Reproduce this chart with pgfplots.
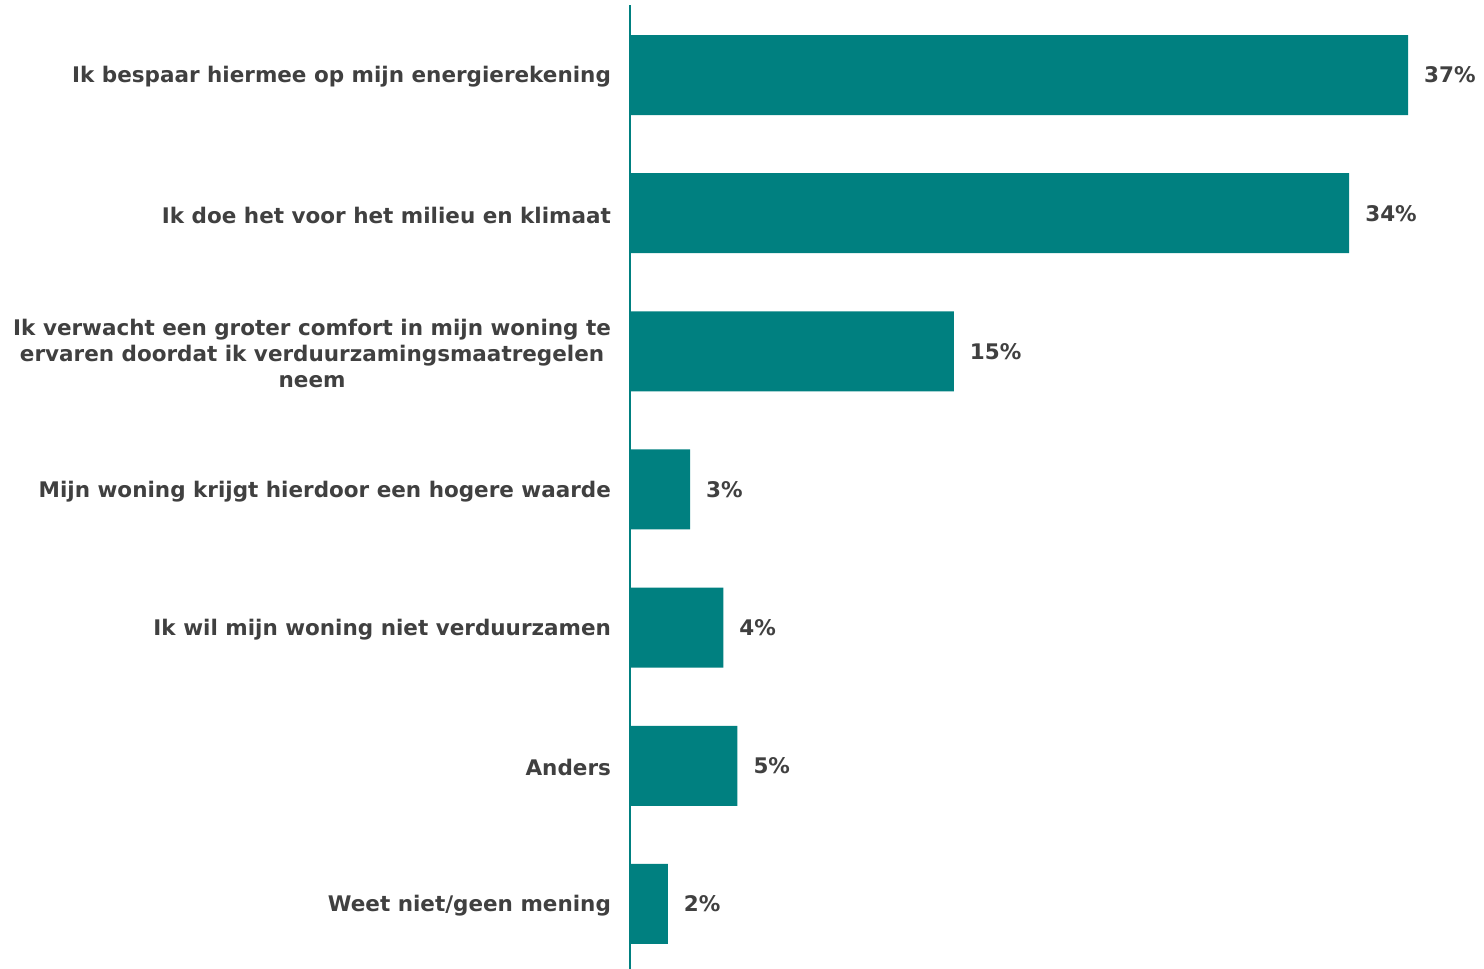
\documentclass[border=0pt]{standalone}
\usepackage{pgfplots}
\pgfplotsset{compat=1.18}
\usepackage{fontspec}
\setmainfont{DejaVu Sans}
\definecolor{barteal}{HTML}{008080}
\definecolor{txtgray}{HTML}{404040}
\begin{document}
\begin{tikzpicture}
\useasboundingbox (-315pt,0pt) rectangle (427pt,484.5pt);
\begin{axis}[
  scale only axis,
  width=420.6pt, height=482pt,
  xmin=0, xmax=40,
  ymin=-0.507, ymax=6.471,
  y dir=reverse,
  xbar, bar width=40pt,
  axis x line=none,
  axis y line*=left,
  y axis line style={barteal, line width=0.9pt},
  ytick={0,1,2,3,4,5,6},
  yticklabels={
    Ik bespaar hiermee op mijn energierekening,
    Ik doe het voor het milieu en klimaat,
    {Ik verwacht een groter comfort in mijn woning te\\ervaren doordat ik verduurzamingsmaatregelen\\neem},
    Mijn woning krijgt hierdoor een hogere waarde,
    Ik wil mijn woning niet verduurzamen,
    Anders,
    Weet niet/geen mening},
  major tick length=0pt,
  yticklabel style={font=\fontsize{10.75pt}{13pt}\selectfont\bfseries, text=txtgray, align=center, xshift=-6pt, yshift=-1pt},
  nodes near coords,
  point meta=explicit symbolic,
  nodes near coords style={font=\fontsize{10.75pt}{13pt}\selectfont\bfseries, text=txtgray, anchor=west, xshift=4.5pt},
]
\addplot[fill=barteal, draw=none] coordinates {
  (37.0,0) [37\%]
  (34.2,1) [34\%]
  (15.4,2) [15\%]
  (2.86,3) [3\%]
  (4.44,4) [4\%]
  (5.11,5) [5\%]
  (1.8,6) [2\%]
};
\end{axis}
\end{tikzpicture}
\end{document}
